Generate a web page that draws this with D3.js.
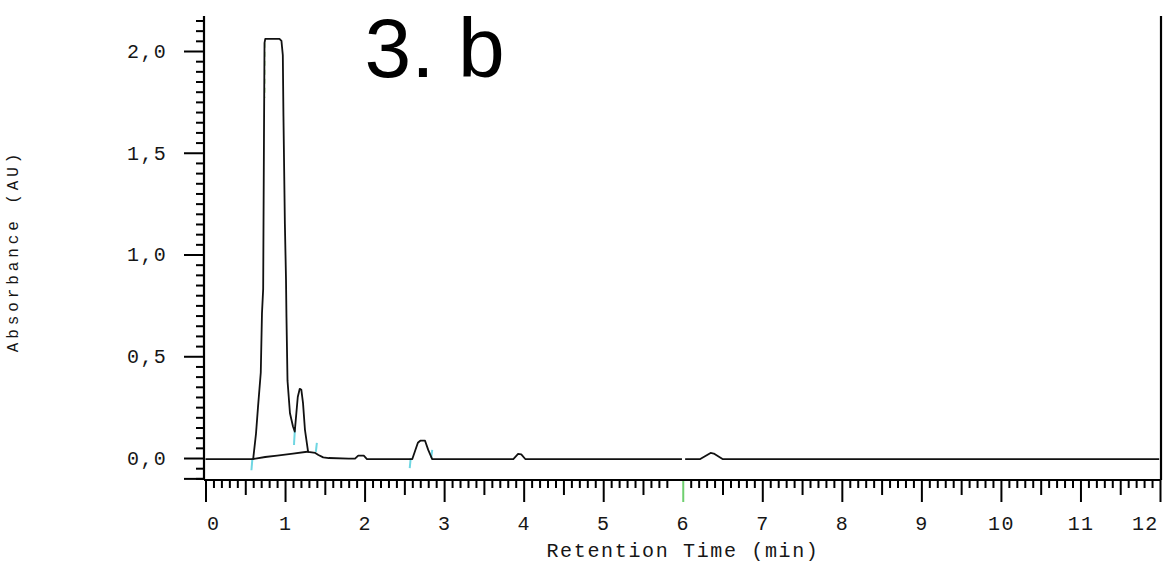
<!DOCTYPE html>
<html>
<head>
<meta charset="utf-8">
<script src="https://cdn.jsdelivr.net/npm/d3@7"></script>
<style>
  html, body { margin: 0; padding: 0; background: #fff; }
  svg { display: block; }
  .mono { font-family: "Liberation Mono", "DejaVu Sans Mono", monospace; fill: #161616; }
</style>
</head>
<body>
<svg id="chart" width="1167" height="567"></svg>
<script>
// Chromatogram trace: retention time (min) and absorbance (AU); null marks a break in the recording
const retentionTime = [0, 0.59, 0.6, 0.635, 0.66, 0.695, 0.71, 0.725, 0.735, 0.742, 0.752, 0.93, 0.955, 0.962, 0.972, 0.98, 0.998, 1.012, 1.018, 1.031, 1.062, 1.10, 1.122, 1.16, 1.185, 1.205, 1.226, 1.25, 1.29, 1.38, 1.42, 1.48, 1.55, 1.8, 1.88, 1.92, 1.99, 2.03, 2.6, 2.67, 2.70, 2.76, 2.80, 2.85, 3.87, 3.93, 3.97, 4.02, 5.99, 6.01, 6.03, 6.22, 6.35, 6.39, 6.5, 11.99];
const absorbance    = [-0.005, -0.005, -0.003, 0.12, 0.25, 0.42, 0.71, 0.83, 1.57, 2.04, 2.06, 2.06, 2.05, 2.02, 1.98, 1.68, 1.15, 0.88, 0.69, 0.38, 0.22, 0.155, 0.13, 0.30, 0.34, 0.335, 0.27, 0.14, 0.03, 0.025, 0.015, 0.003, 0.0, -0.003, -0.003, 0.012, 0.012, -0.005, -0.005, 0.075, 0.085, 0.085, 0.04, -0.005, -0.005, 0.02, 0.018, -0.005, -0.005, null, -0.005, -0.005, 0.025, 0.022, -0.005, -0.005];

// Integration baseline under the first peak group
const baselineTime = [0.59, 0.75, 0.9, 1.1, 1.3];
const baselineAbs  = [-0.005, 0.005, 0.012, 0.022, 0.032];

// Peak start/end event marks
const eventTime   = [0.59, 1.125, 1.40, 2.58, 2.85];
const eventTop    = [0.0, 0.152, 0.074, 0.0, 0.04];
const eventBottom = [-0.06, 0.064, 0.03, -0.05, 0.0];

// Apex mark on the saturated main peak
const apexTime = [0.745];
const apexTop = [2.04];
const apexBottom = [1.77];

// Axis ticks and labels
const xTickValues = [0, 1, 2, 3, 4, 5, 6, 7, 8, 9, 10, 11, 12];
const xTickLabels = ["0", "1", "2", "3", "4", "5", "6", "7", "8", "9", "10", "11", "12"];
const yTickValues = [0, 0.5, 1.0, 1.5, 2.0];
const yTickLabels = ["0,0", "0,5", "1,0", "1,5", "2,0"];

const titleText = "3. b";
const xTitle = "Retention Time (min)";
const yTitle = "Absorbance (AU)";

const svg = d3.select("#chart");

const x = d3.scaleLinear().domain([0, 12]).range([205.5, 1160]);
const y = d3.scaleLinear().domain([-0.108, 2.172]).range([480, 16]);

const axisLeftX = 204, axisBottomY = 480, frameRight = 1161;

// ---- X axis ----
const xMinorVals = d3.range(1, 120).map(i => i / 10)
  .filter(v => Math.abs(v * 2 - Math.round(v * 2)) > 1e-6 && Math.abs(v - 5.9) > 1e-6);
const xHalfVals = d3.range(0, 12).map(i => i + 0.5);

const gxMinor = svg.append("g").attr("transform", `translate(0,${axisBottomY})`)
  .call(d3.axisBottom(x).tickValues(xMinorVals).tickSize(8).tickFormat(""));
gxMinor.select(".domain").remove();
const gxHalf = svg.append("g").attr("transform", `translate(0,${axisBottomY})`)
  .call(d3.axisBottom(x).tickValues(xHalfVals).tickSize(15).tickFormat(""));
gxHalf.select(".domain").remove();

const gx = svg.append("g").attr("transform", `translate(0,${axisBottomY})`)
  .call(d3.axisBottom(x).tickValues(xTickValues).tickSize(22).tickSizeOuter(0)
    .tickFormat((d, i) => xTickLabels[i]));
gx.select(".domain").remove();
gx.selectAll(".tick text")
  .attr("class", "mono")
  .attr("y", 50).attr("dy", 0)
  .style("font-size", "20px").style("letter-spacing", "1.3px")
  .attr("text-anchor", (d, i) => i === 0 ? "start" : (i === xTickValues.length - 1 ? "end" : "middle"))
  .attr("x", (d, i) => i === 0 ? 1 : (i === xTickValues.length - 1 ? -2 : 0));
gx.selectAll(".tick line")
  .attr("stroke", d => d === 6 ? "#6fcf6f" : "#000");

svg.selectAll("g.tick line").attr("stroke-width", 2);
svg.selectAll(".tick line").filter(function () { return d3.select(this).attr("stroke") === "currentColor"; })
  .attr("stroke", "#000");

// Bottom axis line
svg.append("line")
  .attr("x1", axisLeftX).attr("x2", frameRight)
  .attr("y1", axisBottomY).attr("y2", axisBottomY)
  .attr("stroke", "#000").attr("stroke-width", 2.2);

// ---- Y axis ----
const yMinorVals = d3.range(-2, 44).map(i => i / 20)
  .filter(v => Math.abs(v * 2 - Math.round(v * 2)) > 1e-6);

const gyMinor = svg.append("g").attr("transform", `translate(${axisLeftX},0)`)
  .call(d3.axisLeft(y).tickValues(yMinorVals).tickSize(8).tickFormat(""));
gyMinor.select(".domain").remove();
const gyEnd = svg.append("g").attr("transform", `translate(${axisLeftX},0)`)
  .call(d3.axisLeft(y).tickValues([-0.1]).tickSize(20).tickFormat(""));
gyEnd.select(".domain").remove();

const gy = svg.append("g").attr("transform", `translate(${axisLeftX},0)`)
  .call(d3.axisLeft(y).tickValues(yTickValues).tickSize(20).tickPadding(17).tickSizeOuter(0)
    .tickFormat((d, i) => yTickLabels[i]));
gy.select(".domain").remove();
gy.selectAll(".tick text")
  .attr("class", "mono")
  .style("font-size", "20px").style("letter-spacing", "1.3px");

svg.selectAll(".tick line").attr("stroke", function () {
  const c = d3.select(this).attr("stroke");
  return c === "currentColor" ? "#000" : c;
}).attr("stroke-width", 2);

// Left and right frame lines
svg.append("line")
  .attr("x1", axisLeftX).attr("x2", axisLeftX)
  .attr("y1", 16).attr("y2", axisBottomY)
  .attr("stroke", "#000").attr("stroke-width", 2.2);
svg.append("line")
  .attr("x1", frameRight).attr("x2", frameRight)
  .attr("y1", 16).attr("y2", axisBottomY)
  .attr("stroke", "#000").attr("stroke-width", 2.2);

// ---- Axis titles ----
svg.append("text")
  .attr("class", "mono")
  .attr("x", 683).attr("y", 557)
  .attr("text-anchor", "middle")
  .style("font-size", "20px").style("letter-spacing", "1.65px")
  .text(xTitle);

svg.append("text")
  .attr("class", "mono")
  .attr("transform", "translate(17.5,251) rotate(-90)")
  .attr("text-anchor", "middle")
  .style("font-size", "16px").style("letter-spacing", "3.9px")
  .text(yTitle);

// ---- Chart title ----
svg.append("text")
  .attr("x", 364.5).attr("y", 77)
  .style("font-family", "'Liberation Sans', Arial, sans-serif")
  .style("font-size", "84px")
  .attr("fill", "#000")
  .text(titleText);

// ---- Event marks ----
const events = eventTime.map((t, i) => ({ t, top: eventTop[i], bottom: eventBottom[i] }));
svg.append("g").selectAll("line").data(events).join("line")
  .attr("x1", d => x(d.t)).attr("x2", d => x(d.t) - 1)
  .attr("y1", d => y(d.top)).attr("y2", d => y(d.bottom))
  .attr("stroke", "#6fd6e2").attr("stroke-width", 2);

const apex = apexTime.map((t, i) => ({ t, top: apexTop[i], bottom: apexBottom[i] }));
svg.append("g").selectAll("line").data(apex).join("line")
  .attr("x1", d => x(d.t)).attr("x2", d => x(d.t))
  .attr("y1", d => y(d.top)).attr("y2", d => y(d.bottom))
  .attr("stroke", "#a6d98f").attr("stroke-width", 1.5)
  .attr("stroke-dasharray", "5,4");

// ---- Integration baseline ----
const baseline = baselineTime.map((t, i) => ({ t, v: baselineAbs[i] }));
svg.append("path")
  .datum(baseline)
  .attr("fill", "none").attr("stroke", "#111").attr("stroke-width", 1.8)
  .attr("d", d3.line().x(d => x(d.t)).y(d => y(d.v)));

// ---- Chromatogram trace ----
const trace = retentionTime.map((t, i) => ({ t, v: absorbance[i] }));
svg.append("path")
  .datum(trace)
  .attr("fill", "none").attr("stroke", "#111").attr("stroke-width", 1.8)
  .attr("stroke-linejoin", "round")
  .attr("d", d3.line().defined(d => d.v !== null).x(d => x(d.t)).y(d => y(d.v)));
</script>
</body>
</html>
